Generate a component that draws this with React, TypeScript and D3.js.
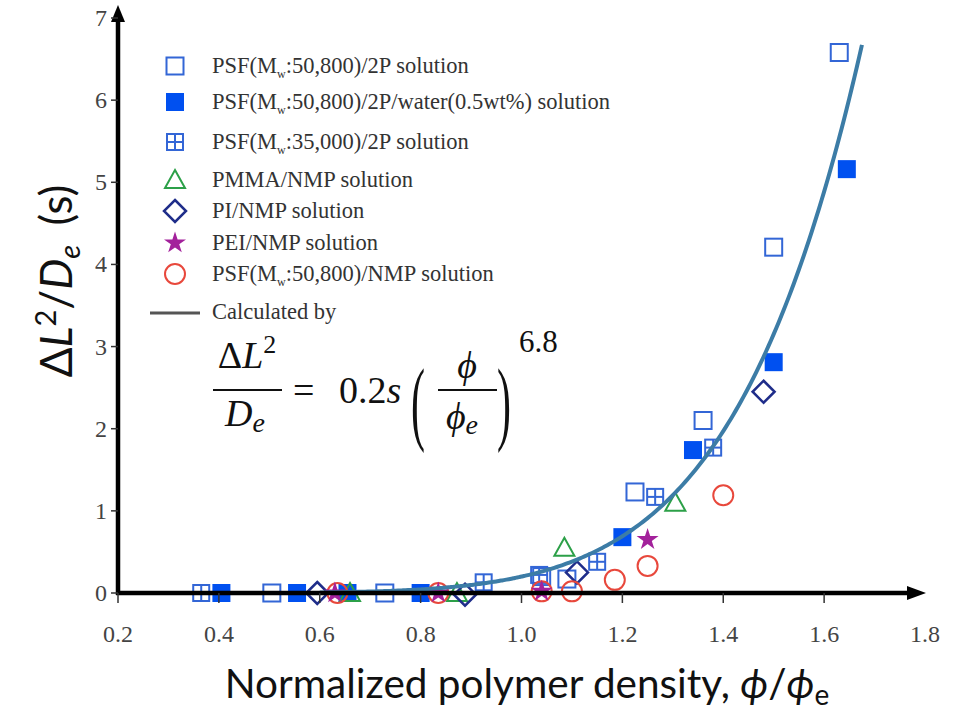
import React from "react";
import * as d3 from "d3";

const xTicks = [0.2, 0.4, 0.6, 0.8, 1.0, 1.2, 1.4, 1.6, 1.8];
const yTicks = [0, 1, 2, 3, 4, 5, 6, 7];

// [phi/phi_e, dL^2/De]
const psf508_2P: [number, number][] = [
  [0.505, 0], [0.729, 0], [1.04, 0.2], [1.09, 0.17], [1.225, 1.23], [1.36, 2.1], [1.5, 4.21], [1.63, 6.58],
];
const psf508_water: [number, number][] = [
  [0.405, 0], [0.555, 0], [0.655, 0], [0.8, 0], [1.2, 0.68], [1.34, 1.74], [1.5, 2.81], [1.645, 5.16],
];
const psf350_2P: [number, number][] = [
  [0.365, 0], [0.925, 0.13], [1.035, 0.22], [1.15, 0.38], [1.265, 1.17], [1.38, 1.77],
];
const pmma: [number, number][] = [
  [0.66, 0], [0.872, 0], [1.085, 0.55], [1.305, 1.1],
];
const pi: [number, number][] = [
  [0.595, 0], [0.888, -0.02], [1.11, 0.25], [1.48, 2.45],
];
const pei: [number, number][] = [
  [0.63, 0], [0.835, 0], [1.04, 0.02], [1.25, 0.65],
];
const psfNmp: [number, number][] = [
  [0.635, 0], [0.835, 0], [1.04, 0.02], [1.1, 0.02], [1.185, 0.16], [1.25, 0.33], [1.4, 1.19],
];

const curveStart = 0.6;
const curveEnd = 1.675;
const curveCoef = 0.2;
const curveExp = 6.8;

const legendLabels = [
  "PSF(M_w:50,800)/2P solution",
  "PSF(M_w:50,800)/2P/water(0.5wt%) solution",
  "PSF(M_w:35,000)/2P solution",
  "PMMA/NMP solution",
  "PI/NMP solution",
  "PEI/NMP solution",
  "PSF(M_w:50,800)/NMP solution",
  "Calculated by",
];

const C = {
  open: "#3366d6",
  filled: "#0050f0",
  grid: "#3366d6",
  tri: "#2ca048",
  dia: "#1f2d8a",
  star: "#a3219b",
  circ: "#e8483c",
  curve: "#3c7ca6",
};

type Kind = "open" | "filled" | "grid" | "tri" | "dia" | "star" | "circ";

function Marker({ kind, x, y }: { kind: Kind; x: number; y: number }) {
  const s = 8.5;
  switch (kind) {
    case "open":
      return <rect x={x - s} y={y - s} width={2 * s} height={2 * s} fill="none" stroke={C.open} strokeWidth={2} />;
    case "filled":
      return <rect x={x - 9} y={y - 9} width={18} height={18} fill={C.filled} />;
    case "grid":
      return (
        <g stroke={C.grid} strokeWidth={2} fill="none">
          <rect x={x - 8} y={y - 8} width={16} height={16} />
          <line x1={x} x2={x} y1={y - 8} y2={y + 8} />
          <line x1={x - 8} x2={x + 8} y1={y} y2={y} />
        </g>
      );
    case "tri":
      return (
        <path d={`M${x},${y - 10}L${x + 10},${y + 8}L${x - 10},${y + 8}Z`} fill="none" stroke={C.tri} strokeWidth={2} />
      );
    case "dia":
      return (
        <path d={`M${x},${y - 11}L${x + 11},${y}L${x},${y + 11}L${x - 11},${y}Z`} fill="none" stroke={C.dia} strokeWidth={2.5} />
      );
    case "star": {
      const p = d3.symbol().type(d3.symbolStar).size(150)();
      return <path d={p || ""} transform={`translate(${x},${y})`} fill={C.star} />;
    }
    case "circ":
      return <circle cx={x} cy={y} r={10} fill="none" stroke={C.circ} strokeWidth={2} />;
  }
  return null;
}

function LegendText({ label, x, y }: { label: string; x: number; y: number }) {
  const parts = label.split("M_w");
  if (parts.length === 1) {
    return <text x={x} y={y}>{label}</text>;
  }
  return (
    <text x={x} y={y}>
      {parts[0]}M<tspan fontSize={12} dy={5}>w</tspan>
      <tspan dy={-5}>{parts[1]}</tspan>
    </text>
  );
}

export default function App() {
  const x = d3.scaleLinear().domain([0.2, 1.8]).range([118, 925]);
  const y = d3.scaleLinear().domain([0, 7]).range([593, 18]);

  const curvePts = d3.range(curveStart, curveEnd + 0.0001, 0.005).map((v) => [v, curveCoef * Math.pow(v, curveExp)] as [number, number]);
  const line = d3
    .line<[number, number]>()
    .x((d) => x(d[0]))
    .y((d) => y(d[1]))
    .curve(d3.curveMonotoneX);

  const series: { kind: Kind; data: [number, number][] }[] = [
    { kind: "grid", data: psf350_2P },
    { kind: "open", data: psf508_2P },
    { kind: "filled", data: psf508_water },
    { kind: "tri", data: pmma },
    { kind: "dia", data: pi },
    { kind: "circ", data: psfNmp },
    { kind: "star", data: pei },
  ];

  const legendKinds: Kind[] = ["open", "filled", "grid", "tri", "dia", "star", "circ"];
  const legendY = [66, 102, 142, 180, 211, 243, 274];

  const axisY0 = y(0);
  const axisX0 = x(0.2);

  return (
    <svg width={963} height={712} style={{ position: "absolute", left: 0, top: 0, background: "#fff" }}>
      <rect width={963} height={712} fill="#fff" />

      {/* markers */}
      {series.map((s, i) => (
        <g key={i}>
          {s.data.map((d, j) => (
            <Marker key={j} kind={s.kind} x={x(d[0])} y={y(d[1])} />
          ))}
        </g>
      ))}

      {/* fitted curve */}
      <path d={line(curvePts) || ""} fill="none" stroke={C.curve} strokeWidth={4} />

      {/* axes */}
      <g stroke="#000">
        <line x1={axisX0} x2={axisX0} y1={axisY0 + 2} y2={14} strokeWidth={4.5} />
        <line x1={axisX0 - 2} x2={910} y1={axisY0} y2={axisY0} strokeWidth={4.5} />
      </g>
      <path d={`M${axisX0},5L${axisX0 + 7},22L${axisX0 - 7},22Z`} fill="#000" />
      <path d={`M926,${axisY0}L907,${axisY0 - 7}L907,${axisY0 + 7}Z`} fill="#000" />
      {xTicks.slice(0, -1).map((t) => (
        <line key={t} x1={x(t)} x2={x(t)} y1={axisY0} y2={axisY0 + 10} stroke="#333" strokeWidth={1.5} />
      ))}
      {yTicks.map((t) => (
        <line key={t} x1={axisX0 - 7} x2={axisX0} y1={y(t)} y2={y(t)} stroke="#333" strokeWidth={1.5} />
      ))}

      {/* tick labels */}
      <g fontFamily="Liberation Serif, serif" fontSize={24} fill="#444">
        {xTicks.map((t) => (
          <text key={t} x={x(t)} y={642} textAnchor="middle">
            {t.toFixed(1)}
          </text>
        ))}
        {yTicks.map((t) => (
          <text key={t} x={107} y={y(t) + 8} textAnchor="end">
            {t}
          </text>
        ))}
      </g>

      {/* axis titles */}
      <text x={527} y={698} textAnchor="middle" fontFamily="Lato, sans-serif" fontSize={40.5} fill="#111">
        Normalized polymer density,{" "}
        <tspan fontStyle="italic">ϕ</tspan>/<tspan fontStyle="italic">ϕ</tspan>
        <tspan fontSize={28} dy={7}>e</tspan>
      </text>
      <text transform="translate(72,281) rotate(-90)" textAnchor="middle" fontFamily="Lato, sans-serif" fontSize={44} fill="#111">
        Δ<tspan fontStyle="italic">L</tspan>
        <tspan fontSize={29} dy={-16}>2</tspan>
        <tspan dy={16}>/</tspan>
        <tspan fontStyle="italic">D</tspan>
        <tspan fontStyle="italic" fontSize={29} dy={8}>e</tspan>
        <tspan dy={-8} dx={8}> (s)</tspan>
      </text>

      {/* legend */}
      <g fontFamily="Liberation Serif, serif" fontSize={22.5} fill="#333">
        {legendKinds.map((k, i) => (
          <g key={k}>
            <Marker kind={k} x={175} y={legendY[i]} />
            <LegendText label={legendLabels[i]} x={212} y={legendY[i] + 7} />
          </g>
        ))}
        <line x1={150} x2={200} y1={313} y2={313} stroke="#555" strokeWidth={3} />
        <text x={212} y={319}>{legendLabels[7]}</text>
      </g>

      {/* equation */}
      <g fontFamily="Liberation Serif, serif" fill="#111" fontSize={38}>
        <text x={247} y={368} textAnchor="middle">
          Δ<tspan fontStyle="italic">L</tspan>
          <tspan fontSize={26} dy={-15}>2</tspan>
        </text>
        <line x1={213} x2={282} y1={390} y2={390} stroke="#111" strokeWidth={2} />
        <text x={245} y={426} textAnchor="middle" fontStyle="italic">
          D<tspan fontSize={28} dy={6}>e</tspan>
        </text>
        <text x={293} y={403}>=</text>
        <text x={339} y={403}>
          0.2<tspan fontStyle="italic">s</tspan>
        </text>
        <text transform="translate(411,433) scale(1,2.2)" fontSize={42}>(</text>
        <text x={467} y={378} textAnchor="middle" fontStyle="italic">ϕ</text>
        <line x1={438} x2={497} y1={390} y2={390} stroke="#111" strokeWidth={2} />
        <text x={462} y={429} textAnchor="middle" fontStyle="italic">
          ϕ<tspan fontSize={28} dy={5}>e</tspan>
        </text>
        <text transform="translate(497,433) scale(1,2.2)" fontSize={42}>)</text>
        <text x={519} y={352} fontSize={31}>6.8</text>
      </g>
    </svg>
  );
}
